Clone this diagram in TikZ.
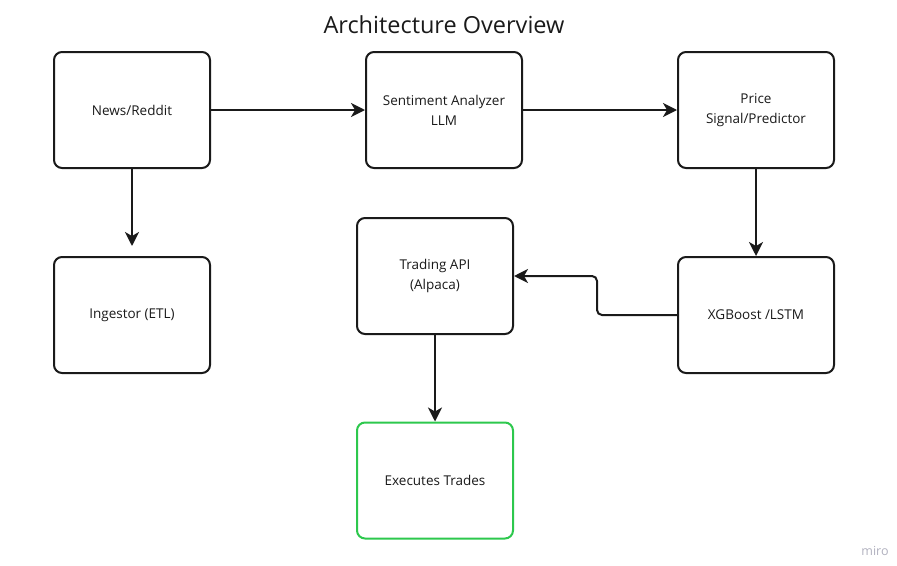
\documentclass[tikz,border=0pt]{standalone}
\usepackage{fontspec}
\setmainfont{Open Sans}
\usetikzlibrary{arrows.meta}
\definecolor{ink}{HTML}{1A1A1A}
\definecolor{okgreen}{HTML}{2DC84D}
\definecolor{mirogray}{HTML}{B0B0BE}
\begin{document}
\begin{tikzpicture}[x=1pt,y=-1pt,
  block/.style={draw=ink, line width=2pt, rounded corners=8pt, fill=white,
    minimum width=156pt, minimum height=116pt, inner sep=0pt,
    align=center, font=\fontsize{13.5}{20}\selectfont, text=ink},
  flow/.style={draw=ink, line width=2pt,
    -{Stealth[length=14pt,width=14pt,inset=4pt]}}]
\useasboundingbox (0,0) rectangle (897,565);

\node[font=\fontsize{23.5}{28}\selectfont, text=ink] (title) at (444,25) {Architecture Overview};

\node[block] (news)   at (132,110) {News/Reddit};
\node[block] (senti)  at (444,110) {Sentiment Analyzer\\LLM};
\node[block] (price)  at (756,110) {Price\\Signal/Predictor};
\node[block] (ingest) at (132,315) {Ingestor (ETL)};
\node[block] (api)    at (435,276) {Trading API\\(Alpaca)};
\node[block] (xgb)    at (756,315) {XGBoost /LSTM};
\node[block, draw=okgreen] (exec) at (435,480.5) {Executes Trades};

\node[font=\fontsize{12.5}{14}\selectfont, text=mirogray] (miro) at (875,551) {miro};

% connectors
\draw[flow] (news) -- (senti);
\draw[flow] (senti) -- (price);
\draw[flow, shorten >=10pt] (news) -- (ingest);
\draw[flow] (price) -- (xgb);
\draw[flow, rounded corners=5pt] (xgb.west) -- (597,315) -- (597,276) -- (api.east);
\draw[flow] (api) -- (exec);
\end{tikzpicture}
\end{document}
